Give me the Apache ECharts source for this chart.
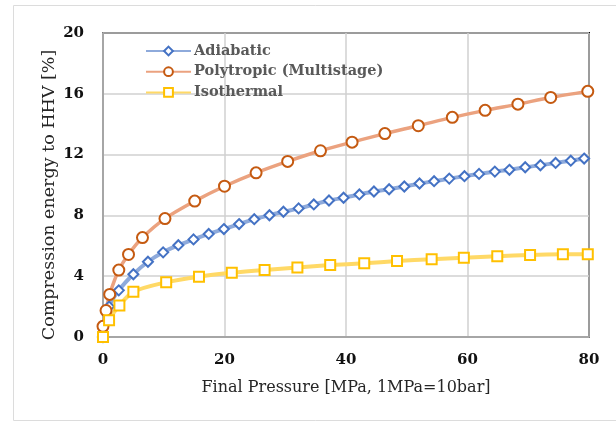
<!DOCTYPE html>
<html>
<head>
<meta charset="utf-8">
<script src="https://cdn.jsdelivr.net/npm/echarts@6/dist/echarts.min.js"></script>
<style>html,body{margin:0;padding:0;background:#fff}#c{width:616px;height:422px}</style>
</head>
<body>
<div id="c"></div>
<script>
// ---- data ----
var seriesNames = ['Adiabatic', 'Polytropic (Multistage)', 'Isothermal'];
var xTicks = [0, 20, 40, 60, 80];
var yTicks = [0, 4, 8, 12, 16, 20];

var adiabaticX = [0, 1.0, 2.6, 5.0, 7.4, 9.9, 12.4, 14.9, 17.4, 19.9, 22.4, 24.9, 27.4, 29.7, 32.2, 34.7, 37.2, 39.6, 42.2, 44.6, 47.1, 49.6, 52.1, 54.5, 57.0, 59.5, 61.9, 64.5, 66.9, 69.5, 72.0, 74.5, 77.0, 79.2];
var adiabaticY = [0, 2.0, 3.07, 4.13, 4.95, 5.57, 6.04, 6.42, 6.78, 7.10, 7.43, 7.75, 8.01, 8.24, 8.46, 8.72, 8.98, 9.16, 9.38, 9.57, 9.72, 9.90, 10.10, 10.25, 10.42, 10.58, 10.73, 10.88, 11.00, 11.17, 11.30, 11.45, 11.60, 11.74];

var polyX = [0, 0.5, 1.1, 2.6, 4.2, 6.5, 10.2, 15.1, 20.0, 25.2, 30.4, 35.8, 41.0, 46.4, 51.9, 57.5, 62.9, 68.3, 73.7, 79.8];
var polyY = [0.7, 1.74, 2.80, 4.40, 5.43, 6.54, 7.79, 8.94, 9.92, 10.80, 11.55, 12.25, 12.82, 13.38, 13.90, 14.45, 14.91, 15.32, 15.76, 16.16];

var isoX = [0, 1.0, 2.7, 5.0, 10.4, 15.8, 21.2, 26.6, 32.0, 37.4, 43.0, 48.4, 54.1, 59.4, 64.9, 70.3, 75.7, 79.8];
var isoY = [0, 1.11, 2.07, 2.97, 3.60, 3.97, 4.22, 4.41, 4.57, 4.73, 4.85, 5.00, 5.12, 5.22, 5.32, 5.40, 5.44, 5.45];

var xTitle = 'Final Pressure [MPa, 1MPa=10bar]';
var yTitle = 'Compression energy to HHV [%]';

function pairs(xs, ys) { return xs.map(function (x, i) { return [x, ys[i]]; }); }

var chart = echarts.init(document.getElementById('c'), null, {renderer: 'canvas'});
var serif = '"DejaVu Serif", serif';
var titleFont = '"DejaVu Serif", serif';

chart.setOption({
  animation: false,
  backgroundColor: '#fff',
  graphic: [{
    type: 'rect', silent: true, z: -10,
    shape: {x: 13.5, y: 5.5, width: 640, height: 415},
    style: {fill: 'none', stroke: '#dcdcdc', lineWidth: 1}
  }, {
    type: 'text', silent: true,
    x: 49, y: 195, rotation: Math.PI / 2,
    style: {text: yTitle, font: '17.5px "DejaVu Serif", serif', fill: '#262626', align: 'center', verticalAlign: 'middle'}
  }],
  grid: {
    left: 103, right: 27, top: 33, bottom: 85,
    show: true, borderColor: '#000', borderWidth: 2, backgroundColor: 'transparent'
  },
  legend: {
    orient: 'vertical', left: 140, top: 38,
    itemWidth: 45, itemHeight: 11, itemGap: 4.7,
    textStyle: {fontFamily: serif, fontWeight: 'bold', fontSize: 14.5, color: '#595959', lineHeight: 16, padding: [0, 0, 0, -2]},
    data: seriesNames
  },
  xAxis: {
    type: 'value', min: xTicks[0], max: xTicks[xTicks.length - 1], interval: 20,
    name: xTitle, nameLocation: 'middle', nameGap: 43,
    nameTextStyle: {fontFamily: titleFont, fontSize: 16, color: '#262626'},
    axisLine: {show: true, lineStyle: {color: '#a6a6a6', width: 2}},
    axisTick: {show: false},
    axisLabel: {fontFamily: serif, fontWeight: 'bold', fontSize: 15, color: '#111', margin: 16},
    splitLine: {show: true, lineStyle: {color: '#d0d0d0', width: 1.5}}
  },
  yAxis: {
    type: 'value', min: yTicks[0], max: yTicks[yTicks.length - 1], interval: 4,
    axisLine: {show: true, lineStyle: {color: '#a6a6a6', width: 2}},
    axisTick: {show: false},
    axisLabel: {fontFamily: serif, fontWeight: 'bold', fontSize: 15, color: '#111', margin: 19},
    splitLine: {show: true, lineStyle: {color: '#d0d0d0', width: 1.5}}
  },
  series: [{
    name: seriesNames[0], type: 'line', smooth: 0.3,
    data: pairs(adiabaticX, adiabaticY),
    symbol: 'diamond', symbolSize: 10, showAllSymbol: true,
    lineStyle: {color: '#8eaadb', width: 4},
    itemStyle: {color: '#fff', borderColor: '#4472c4', borderWidth: 2}
  }, {
    name: seriesNames[1], type: 'line', smooth: 0.3,
    data: pairs(polyX, polyY),
    symbol: 'circle', symbolSize: 11, showAllSymbol: true,
    lineStyle: {color: '#eba27f', width: 3.5},
    itemStyle: {color: '#fff', borderColor: '#c55a11', borderWidth: 2}
  }, {
    name: seriesNames[2], type: 'line', smooth: 0.3,
    data: pairs(isoX, isoY),
    symbol: 'rect', symbolSize: 10, showAllSymbol: true,
    lineStyle: {color: '#ffd966', width: 4},
    itemStyle: {color: '#fff', borderColor: '#ffc000', borderWidth: 2}
  }]
});
</script>
</body>
</html>
